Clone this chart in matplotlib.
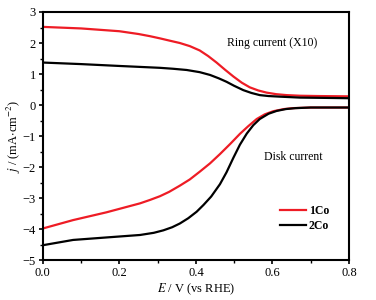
import numpy as np
import matplotlib
matplotlib.use('Agg')
import matplotlib.pyplot as plt
from matplotlib.ticker import MultipleLocator

plt.rcParams['font.family'] = ['Liberation Serif', 'DejaVu Serif']
plt.rcParams['mathtext.fontset'] = 'stix'

# potentials (V vs RHE) and currents (mA cm-2)
E_ring_1co = [0.0, 0.1, 0.2, 0.25, 0.28, 0.306, 0.33, 0.358, 0.384, 0.41, 0.432, 0.454, 0.476,
              0.498, 0.52, 0.541, 0.563, 0.585, 0.61, 0.637, 0.672, 0.72, 0.8]
ring_1co = [2.52, 2.47, 2.38, 2.29, 2.22, 2.15, 2.08, 2.00, 1.90, 1.76, 1.58, 1.37, 1.14,
            0.92, 0.72, 0.57, 0.47, 0.40, 0.35, 0.32, 0.30, 0.29, 0.28]

E_ring_2co = [0.0, 0.1, 0.2, 0.306, 0.34, 0.376, 0.41, 0.437, 0.46, 0.48, 0.50, 0.524,
              0.545, 0.567, 0.59, 0.62, 0.672, 0.74, 0.8]
ring_2co = [1.37, 1.32, 1.26, 1.20, 1.17, 1.13, 1.06, 0.97, 0.86, 0.75, 0.62, 0.48,
            0.39, 0.32, 0.29, 0.27, 0.24, 0.23, 0.22]

E_disk_1co = [0.0, 0.079, 0.166, 0.254, 0.28, 0.306, 0.33, 0.358, 0.384, 0.41, 0.437, 0.463,
              0.49, 0.515, 0.537, 0.559, 0.58, 0.602, 0.63, 0.654, 0.70, 0.8]
disk_1co = [-3.98, -3.71, -3.46, -3.17, -3.06, -2.94, -2.80, -2.60, -2.40, -2.15, -1.88, -1.58,
            -1.25, -0.93, -0.68, -0.45, -0.30, -0.20, -0.13, -0.10, -0.08, -0.08]

E_disk_2co = [0.0, 0.079, 0.166, 0.254, 0.29, 0.315, 0.338, 0.358, 0.38, 0.402, 0.42, 0.44,
              0.463, 0.48, 0.498, 0.515, 0.533, 0.55, 0.567, 0.59, 0.611, 0.635, 0.66, 0.70, 0.8]
disk_2co = [-4.52, -4.35, -4.27, -4.19, -4.12, -4.04, -3.94, -3.82, -3.65, -3.44, -3.22, -2.95,
            -2.55, -2.17, -1.70, -1.28, -0.92, -0.65, -0.45, -0.28, -0.19, -0.13, -0.10, -0.08, -0.08]

fig = plt.figure(figsize=(3.76, 3.0), dpi=100)
ax = fig.add_axes([0.114, 0.133, 0.814, 0.827])

red = '#ee1c25'
ax.plot(E_ring_1co, ring_1co, color=red, lw=1.6)
ax.plot(E_ring_2co, ring_2co, color='black', lw=1.6)
l1, = ax.plot(E_disk_1co, disk_1co, color=red, lw=1.6, label='1Co')
l2, = ax.plot(E_disk_2co, disk_2co, color='black', lw=1.6, label='2Co')

ax.set_xlim(0, 0.8)
ax.set_ylim(-5, 3)
ax.xaxis.set_major_locator(MultipleLocator(0.2))
ax.xaxis.set_minor_locator(MultipleLocator(0.1))
ax.yaxis.set_major_locator(MultipleLocator(1))
ax.yaxis.set_minor_locator(MultipleLocator(0.5))
ax.xaxis.set_major_formatter(plt.FuncFormatter(lambda v, p: '%.1f' % v))
ax.tick_params(which='major', direction='out', length=3, width=1.2, labelsize=9, pad=2)
ax.tick_params(which='minor', direction='out', length=2, width=1.0)
for s in ax.spines.values():
    s.set_linewidth(1.5)

ax.set_xlabel(r'$\mathit{E}$ / V (vs RHE)', fontsize=9, labelpad=2)
ax.set_ylabel(r'$\mathit{j}$ / (mA$\cdot$cm$^{-2}$)', fontsize=9, labelpad=0)

ax.text(0.6, 2.0, 'Ring current (X10)', fontsize=8.5, ha='center', va='center')
ax.text(0.655, -1.68, 'Disk current', fontsize=8.5, ha='center', va='center')

leg = ax.legend(handles=[l1, l2], loc='lower right', bbox_to_anchor=(0.97, 0.07),
                frameon=False, fontsize=8.5, handlelength=2.2, handletextpad=0.2,
                labelspacing=0.25)
for t in leg.get_texts():
    t.set_fontweight('bold')

plt.savefig('out.png', dpi=100)
